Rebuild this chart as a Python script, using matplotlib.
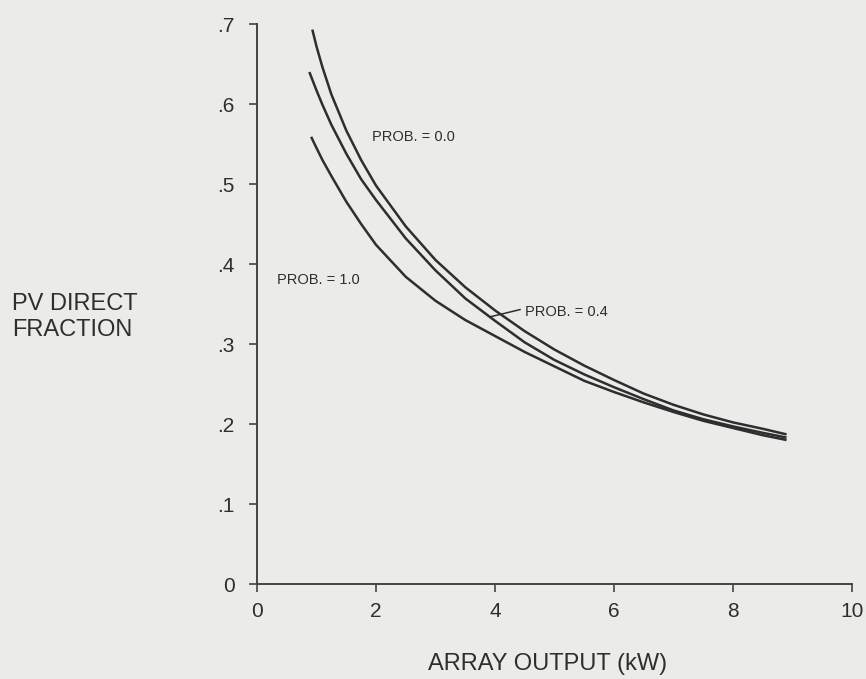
import matplotlib
matplotlib.use("Agg")
import matplotlib.pyplot as plt

# curvas (PV direct fraction vs array output)
x_p00 = [0.93, 1.0, 1.1, 1.25, 1.5, 1.75, 2.0, 2.5, 3.0, 3.5, 4.0, 4.5, 5.0, 5.5, 6.0, 6.5, 7.0, 7.5, 8.0, 8.5, 8.9]
y_p00 = [0.693, 0.672, 0.646, 0.612, 0.567, 0.530, 0.498, 0.447, 0.405, 0.371, 0.342, 0.316, 0.293, 0.273, 0.255, 0.238, 0.224, 0.212, 0.202, 0.194, 0.187]

x_p04 = [0.88, 1.0, 1.1, 1.25, 1.5, 1.75, 2.0, 2.5, 3.0, 3.5, 4.0, 4.5, 5.0, 5.5, 6.0, 6.5, 7.0, 7.5, 8.0, 8.5, 8.9]
y_p04 = [0.640, 0.617, 0.599, 0.574, 0.538, 0.506, 0.480, 0.432, 0.392, 0.357, 0.329, 0.302, 0.280, 0.262, 0.246, 0.231, 0.217, 0.206, 0.197, 0.189, 0.183]

x_p10 = [0.91, 1.0, 1.1, 1.25, 1.5, 1.75, 2.0, 2.5, 3.0, 3.5, 4.0, 4.5, 5.0, 5.5, 6.0, 6.5, 7.0, 7.5, 8.0, 8.5, 8.9]
y_p10 = [0.559, 0.545, 0.530, 0.510, 0.478, 0.450, 0.424, 0.384, 0.354, 0.330, 0.310, 0.290, 0.272, 0.254, 0.240, 0.227, 0.215, 0.204, 0.195, 0.186, 0.180]

x_ticks = [0, 2, 4, 6, 8, 10]
y_ticks = [0, 0.1, 0.2, 0.3, 0.4, 0.5, 0.6, 0.7]
y_ticklabels = ["0", ".1", ".2", ".3", ".4", ".5", ".6", ".7"]

bg = "#ebebe9"
ink = "#2e2e2e"

plt.rcParams["font.family"] = ["Liberation Sans", "DejaVu Sans"]

fig = plt.figure(figsize=(8.66, 6.79), dpi=100, facecolor=bg)
ax = fig.add_axes([257 / 866, 95 / 679, 595 / 866, 560 / 679])
ax.set_facecolor(bg)

for xs, ys in [(x_p00, y_p00), (x_p04, y_p04), (x_p10, y_p10)]:
    ax.plot(xs, ys, color=ink, lw=1.8, solid_capstyle="butt")

ax.set_xlim(0, 10)
ax.set_ylim(0, 0.7)
ax.set_xticks(x_ticks)
ax.set_yticks(y_ticks)
ax.set_yticklabels(y_ticklabels)

for s in ["top", "right"]:
    ax.spines[s].set_visible(False)
for s in ["left", "bottom"]:
    ax.spines[s].set_color("#444444")
    ax.spines[s].set_linewidth(1.4)

ax.tick_params(direction="out", length=6, width=1.2, color="#444444",
               labelsize=15, labelcolor=ink)
ax.tick_params(axis="x", pad=7)
ax.tick_params(axis="y", pad=10)

# etiquetas de las curvas
ax.text(1.93, 0.559, "PROB. = 0.0", fontsize=10.5, color=ink, va="center", ha="left")
ax.text(0.33, 0.38, "PROB. = 1.0", fontsize=10.5, color=ink, va="center", ha="left")
ax.text(4.50, 0.340, "PROB. = 0.4", fontsize=10.5, color=ink, va="center", ha="left")
ax.plot([3.92, 4.42], [0.334, 0.343], color=ink, lw=1.1)

fig.text(12 / 866, 1 - 317 / 679, "PV DIRECT\nFRACTION", fontsize=17, color=ink,
         ha="left", va="center", linespacing=1.25)
fig.text(548 / 866, 1 - 664 / 679, "ARRAY OUTPUT (kW)", fontsize=17, color=ink,
         ha="center", va="center")

fig.savefig("out.png", dpi=100, facecolor=bg)
